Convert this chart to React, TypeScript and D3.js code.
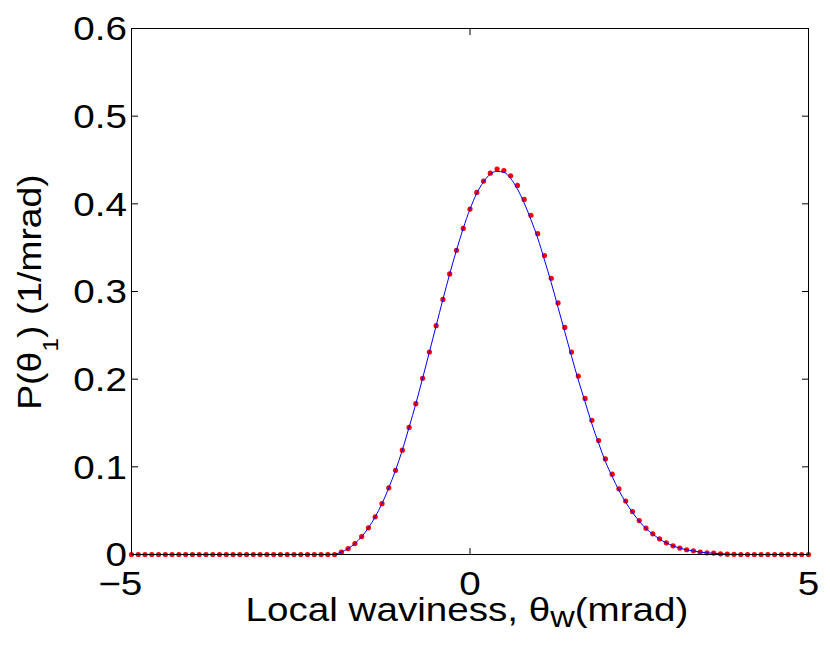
import React from "react";
import * as d3 from "d3";

const xValues: number[] = [
  -5.0, -4.9, -4.8, -4.7, -4.6, -4.5, -4.4, -4.3, -4.2, -4.1,
  -4.0, -3.9, -3.8, -3.7, -3.6, -3.5, -3.4, -3.3, -3.2, -3.1,
  -3.0, -2.9, -2.8, -2.7, -2.6, -2.5, -2.4, -2.3, -2.2, -2.1,
  -2.0, -1.9, -1.8, -1.7, -1.6, -1.5, -1.4, -1.3, -1.2, -1.1,
  -1.0, -0.9, -0.8, -0.7, -0.6, -0.5, -0.4, -0.3, -0.2, -0.1,
  0.0, 0.1, 0.2, 0.3, 0.4, 0.5, 0.6, 0.7, 0.8, 0.9,
  1.0, 1.1, 1.2, 1.3, 1.4, 1.5, 1.6, 1.7, 1.8, 1.9,
  2.0, 2.1, 2.2, 2.3, 2.4, 2.5, 2.6, 2.7, 2.8, 2.9,
  3.0, 3.1, 3.2, 3.3, 3.4, 3.5, 3.6, 3.7, 3.8, 3.9,
  4.0, 4.1, 4.2, 4.3, 4.4, 4.5, 4.6, 4.7, 4.8, 4.9,
  5.0,
];

// measured values (red dots)
const measured: number[] = [
  0, 0, 0, 0, 0, 0, 0, 0, 0, 0,
  0, 0, 0, 0, 0, 0, 0, 0, 0, 0,
  0, 0, 0, 0, 0, 0, 0, 0, 0, 0,
  0, 0.0027, 0.0068, 0.0125, 0.0205, 0.0304, 0.043, 0.058, 0.076, 0.096,
  0.119, 0.145, 0.172, 0.201, 0.231, 0.261, 0.291, 0.32, 0.347, 0.372,
  0.394, 0.413, 0.426, 0.435, 0.4396, 0.438, 0.432, 0.421, 0.405, 0.387,
  0.366, 0.341, 0.315, 0.287, 0.259, 0.231, 0.2035, 0.178, 0.153, 0.13,
  0.109, 0.0916, 0.075, 0.061, 0.049, 0.0387, 0.03, 0.0236, 0.0179, 0.0133,
  0.0099, 0.0073, 0.0054, 0.0042, 0.0027, 0.0019, 0.0016, 0.0008, 0.0004, 0.0002,
  0, 0, 0, 0, 0, 0, 0, 0, 0, 0,
  0,
];

// fitted curve (blue line)
const fitted: number[] = [
  0, 0, 0, 0, 0, 0, 0, 0, 0, 0,
  0, 0, 0, 0, 0, 0, 0, 0, 0, 0,
  0, 0, 0, 0, 0, 0, 0, 0, 0, 0,
  0.0004, 0.0028, 0.0068, 0.0125, 0.0205, 0.0304, 0.043, 0.058, 0.076, 0.096,
  0.119, 0.145, 0.172, 0.201, 0.231, 0.261, 0.291, 0.32, 0.347, 0.372,
  0.394, 0.412, 0.425, 0.434, 0.437, 0.436, 0.429, 0.417, 0.401, 0.382,
  0.361, 0.336, 0.31, 0.282, 0.254, 0.226, 0.199, 0.174, 0.149, 0.127,
  0.106, 0.089, 0.073, 0.0595, 0.048, 0.038, 0.0296, 0.0233, 0.0177, 0.0132,
  0.0098, 0.0072, 0.0053, 0.0041, 0.0027, 0.0019, 0.0015, 0.0008, 0.0004, 0.0002,
  0, 0, 0, 0, 0, 0, 0, 0, 0, 0,
  0,
];

const xTicks: number[] = [-5, 0, 5];
const yTicks: number[] = [0, 0.1, 0.2, 0.3, 0.4, 0.5, 0.6];

const W = 830;
const H = 649;
const left = 131.5;
const right = 808.5;
const top = 28.5;
const bottom = 554.5;
const FONT = "'Liberation Sans', Arial, Helvetica, sans-serif";
const FS = 33;
const SX = 1.17;
const TICK = 6.5;

export default function App() {
  const x = d3.scaleLinear().domain([-5, 5]).range([left, right]);
  const y = d3.scaleLinear().domain([0, 0.6]).range([bottom, top]);

  const line = d3
    .line<number>()
    .x((_, i) => x(xValues[i]))
    .y((d) => y(d))
    .curve(d3.curveMonotoneX);

  const fmtY = (v: number) => (v === 0 ? "0" : d3.format(".1f")(v));
  const digitW = 0.556 * FS * SX;

  return (
    <svg
      width={W}
      height={H}
      style={{ position: "absolute", left: 0, top: 0, background: "#fff" }}
    >
      <rect x={0} y={0} width={W} height={H} fill="#fff" />
      {/* data */}
      <g>
        {measured.map((v, i) => (
          <circle key={i} cx={x(xValues[i])} cy={y(v)} r={2.6} fill="#ff0000" />
        ))}
      </g>
      <path d={line(fitted) || ""} fill="none" stroke="#0000ff" strokeWidth={1} />

      {/* box */}
      <rect
        x={left}
        y={top}
        width={right - left}
        height={bottom - top}
        fill="none"
        stroke="#000"
        strokeWidth={1}
      />
      {/* ticks */}
      {xTicks.map((t) => (
        <g key={"xt" + t}>
          <line x1={x(t)} x2={x(t)} y1={bottom} y2={bottom - TICK} stroke="#000" />
          <line x1={x(t)} x2={x(t)} y1={top} y2={top + TICK} stroke="#000" />
        </g>
      ))}
      {yTicks.map((t) => (
        <g key={"yt" + t}>
          <line x1={left} x2={left + TICK} y1={y(t)} y2={y(t)} stroke="#000" />
          <line x1={right} x2={right - TICK} y1={y(t)} y2={y(t)} stroke="#000" />
        </g>
      ))}

      {/* tick labels */}
      <g fontFamily={FONT} fontSize={FS} fill="#000">
        {yTicks.map((t) => (
          <text
            key={"yl" + t}
            transform={`translate(${left - 4.5},${y(t) + 11.8}) scale(${SX},1)`}
            textAnchor="end"
          >
            {fmtY(t)}
          </text>
        ))}
        {xTicks.map((t) => {
          const s = String(Math.abs(t));
          const label = t < 0 ? "\u2212" + s : s;
          const ax = x(t) + (s.length * digitW) / 2;
          return (
            <text
              key={"xl" + t}
              transform={`translate(${ax},595) scale(${SX},1)`}
              textAnchor="end"
            >
              {label}
            </text>
          );
        })}
      </g>

      {/* x label */}
      <text
        transform={`translate(467,621) scale(${SX},1)`}
        textAnchor="middle"
        fontFamily={FONT}
        fontSize={FS}
        fill="#000"
      >
        {"Local waviness, \u03B8"}
        <tspan fontSize={29} dy={6}>
          w
        </tspan>
        <tspan dy={-6}>(mrad)</tspan>
      </text>

      {/* y label */}
      <text
        transform={`translate(41,292) rotate(-90) scale(1.13,1)`}
        textAnchor="middle"
        fontFamily={FONT}
        fontSize={FS}
        fill="#000"
      >
        {"P(\u03B8"}
        <tspan fontSize={22} dy={17}>
          1
        </tspan>
        <tspan dy={-17}>{") (1/mrad)"}</tspan>
      </text>
    </svg>
  );
}
